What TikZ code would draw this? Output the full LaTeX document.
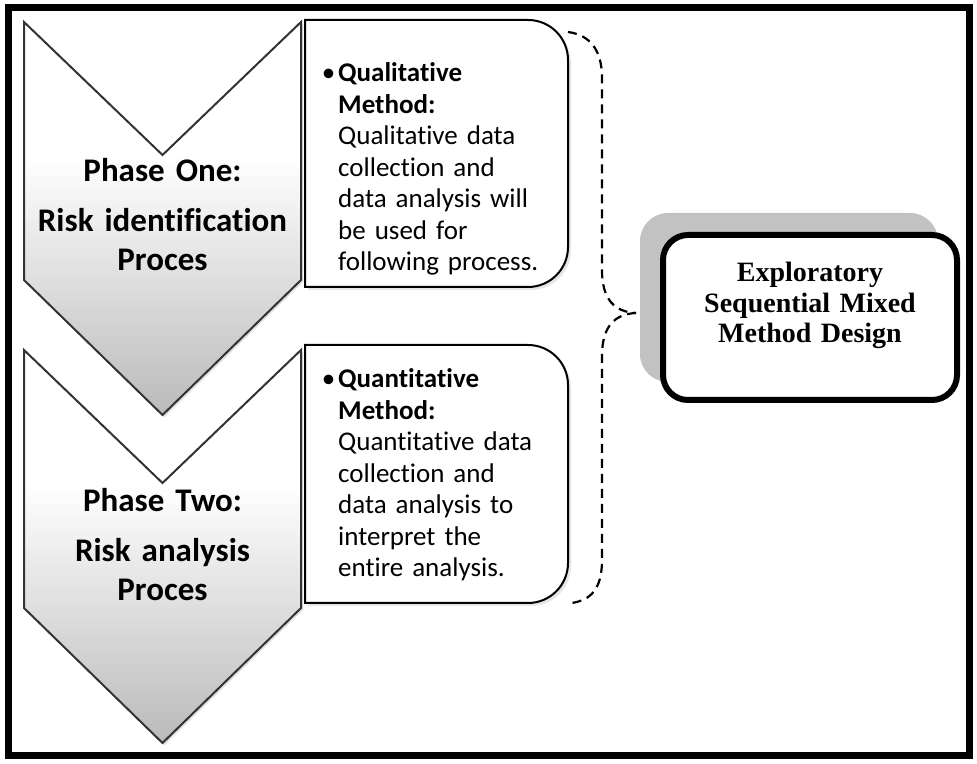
\documentclass[tikz,border=0pt]{standalone}
\usepackage{fontspec}
\setmainfont{Carlito}[Ligatures={NoCommon,NoContextual,NoRare}]
\newfontfamily\bodyfont{Carlito}[Ligatures={NoCommon,NoContextual,NoRare}, WordSpace=0.8]
\newfontfamily\designfont{Liberation Serif}
\usetikzlibrary{shadows}
\definecolor{edgegray}{gray}{0.2}
\definecolor{backgray}{gray}{0.76}
\pgfdeclareverticalshading{chevronshade}{100bp}{color(0bp)=(black!27); color(25bp)=(black!27);
  color(42bp)=(black!13); color(58bp)=(white); color(100bp)=(white)}

\tikzset{
  chevron/.style={draw=edgegray, line width=2pt, shading=chevronshade,
    drop shadow={opacity=0.25, shadow xshift=2pt, shadow yshift=-2pt}},
  methodbox/.style={draw=black, line width=2pt, fill=white,
    drop shadow={opacity=0.2, shadow xshift=3pt, shadow yshift=-3pt}},
  phasetext/.style={text width=275pt, align=center, anchor=base, inner sep=0pt,
    font=\fontsize{33}{39}\selectfont\bfseries},
  methodtext/.style={text width=240pt, align=left, anchor=base west, inner sep=0pt,
    font=\bodyfont\fontsize{27}{31.5}\selectfont},
  backbox/.style={fill=backgray, rounded corners=28pt, minimum width=298pt, minimum height=169pt},
  designbox/.style={draw=black, fill=white, line width=6pt, rounded corners=25pt,
    minimum width=294pt, minimum height=165pt, inner sep=0pt},
  designtext/.style={text width=290pt, align=center, anchor=base, inner sep=0pt,
    font=\designfont\bfseries\fontsize{28}{30.5}\selectfont},
  bracket/.style={draw=black, line width=2.2pt, dash pattern=on 9pt off 6pt}
}

\begin{document}
\begin{tikzpicture}[x=1pt,y=1pt]
  \useasboundingbox (0,0) rectangle (977,763);
  \draw[line width=7pt] (8,8) rectangle (969,755);

  % the two phase arrows
  \draw[chevron] (24,413) -- (162.5,280) -- (301,413) -- (301,155) -- (162.5,20) -- (24,155) -- cycle;
  \draw[chevron] (24,741) -- (162.5,608) -- (301,741) -- (301,483) -- (162.5,348) -- (24,483) -- cycle;

  \node[phasetext] (phaseone) at (162.5,581) {Phase One:\\[11pt] Risk identification\\ Proces};
  \node[phasetext] (phasetwo) at (162.5,251) {Phase Two:\\[11pt] Risk analysis\\ Proces};

  % method boxes
  \draw[methodbox] (305,476) -- (305,743) -- (528,743) arc[start angle=90, end angle=0, radius=40]
    -- (568,516) arc[start angle=0, end angle=-90, radius=40] -- cycle;
  \draw[methodbox] (305,160) -- (305,418) -- (528,418) arc[start angle=90, end angle=0, radius=40]
    -- (568,200) arc[start angle=0, end angle=-90, radius=40] -- cycle;

  \node[methodtext] (qualtext) at (338,681)
    {\llap{•\hspace{3pt}}\textbf{Qualitative}\\ \textbf{Method:}\\ Qualitative data\\ collection and\\
     data analysis will\\ be used for\\ following process.};
  \node[methodtext] (quanttext) at (338,375)
    {\llap{•\hspace{3pt}}\textbf{Quantitative}\\ \textbf{Method:}\\ Quantitative data\\ collection and\\
     data analysis to\\ interpret the\\ entire analysis.};

  % design box
  \node[backbox] (designback) at (789,465.5) {};
  \node[designbox] (design) at (810,445.5) {};
  \node[designtext] (designlabel) at (810,481) {Exploratory\\ Sequential Mixed\\ Method Design};

  % dashed brace
  \coordinate (bracetop) at (568,731);
  \coordinate (bracetip) at (636,450);
  \coordinate (bracebot) at (572,160);
  \draw[bracket] (bracetop) .. controls (590,728) and (602,713) .. (602,685) -- (602,493)
    .. controls (602,463) and (615,451) .. (bracetip);
  \draw[bracket] (bracetip) .. controls (615,449) and (602,437) .. (602,407) -- (602,203)
    .. controls (602,173) and (590,163) .. (bracebot);
\end{tikzpicture}
\end{document}
